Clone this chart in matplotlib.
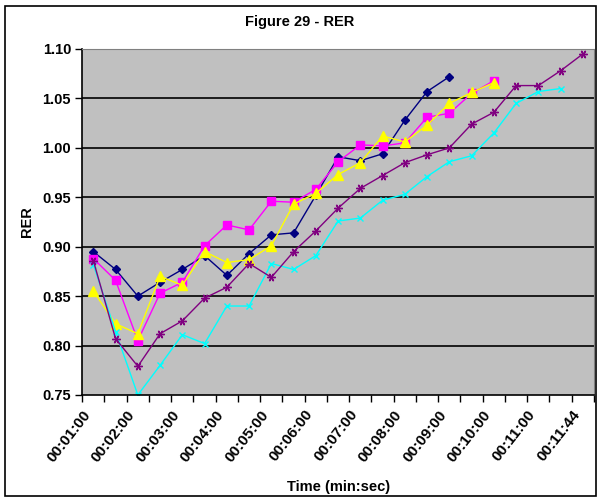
import matplotlib.pyplot as plt
import numpy as np
from matplotlib.patches import Rectangle

plt.rcParams['font.family'] = ['Liberation Sans', 'DejaVu Sans']

# categories every 30 s, last one at 11:44
times = ['00:01:00', '00:01:30', '00:02:00', '00:02:30', '00:03:00', '00:03:30',
         '00:04:00', '00:04:30', '00:05:00', '00:05:30', '00:06:00', '00:06:30',
         '00:07:00', '00:07:30', '00:08:00', '00:08:30', '00:09:00', '00:09:30',
         '00:10:00', '00:10:30', '00:11:00', '00:11:30', '00:11:44']

blue = [0.895, 0.877, 0.850, 0.864, 0.877, 0.891, 0.871, 0.893, 0.912, 0.914,
        0.952, 0.991, 0.987, 0.994, 1.028, 1.057, 1.072]
magenta = [0.888, 0.866, 0.805, 0.853, 0.864, 0.901, 0.922, 0.917, 0.946, 0.945,
           0.958, 0.986, 1.003, 1.002, 1.005, 1.031, 1.035, 1.055, 1.068]
yellow = [0.855, 0.822, 0.812, 0.870, 0.861, 0.895, 0.884, 0.887, 0.901, 0.943,
          0.954, 0.973, 0.985, 1.012, 1.006, 1.023, 1.045, 1.056, 1.066]
cyan = [0.882, 0.814, 0.750, 0.780, 0.811, 0.802, 0.840, 0.840, 0.883, 0.877,
        0.891, 0.926, 0.929, 0.947, 0.953, 0.971, 0.986, 0.992, 1.015, 1.045,
        1.057, 1.060]
purple = [0.886, 0.807, 0.779, 0.812, 0.825, 0.848, 0.859, 0.883, 0.869, 0.895,
          0.916, 0.939, 0.959, 0.972, 0.985, 0.993, 1.000, 1.024, 1.036, 1.063,
          1.063, 1.078, 1.095]

yticks = [0.75, 0.80, 0.85, 0.90, 0.95, 1.00, 1.05, 1.10]


def main():
    fig = plt.figure(figsize=(6, 5.01), dpi=100)
    fig.patches.append(Rectangle((0.008, 0.01), 0.985, 0.978, transform=fig.transFigure,
                                 fill=False, edgecolor='black', linewidth=1.2))
    ax = fig.add_axes([0.137, 0.2116, 0.853, 0.6906])
    ax.set_facecolor('#C0C0C0')

    series = [
        (blue, '#000080', 'D', 4.5),
        (magenta, '#FF00FF', 's', 5.5),
        (yellow, '#FFFF00', '^', 6.5),
        (cyan, '#00FFFF', 'x', 5),
        (purple, '#800080', (6, 2, 90), 6),
    ]
    for vals, color, marker, ms in series:
        ax.plot(np.arange(len(vals)), vals, color=color, marker=marker, markersize=ms,
                markeredgecolor=color, markeredgewidth=1.0, linewidth=1.0)

    ax.set_ylim(0.75, 1.10)
    ax.set_xlim(-0.5, len(times) - 0.5)
    ax.set_yticks(yticks)
    ax.set_yticklabels(['{:.2f}'.format(v) for v in yticks], fontsize=10.5, fontweight='bold')
    for v in yticks[1:]:
        ax.axhline(v, color='black', linewidth=1.2, zorder=0.5)

    idx = np.arange(len(times))
    ax.set_xticks(idx)
    ax.set_xticklabels([t if i % 2 == 0 else '' for i, t in enumerate(times)],
                       rotation=52, ha='right', va='top', fontsize=11, fontweight='bold')
    ax.set_xticks(np.arange(-0.5, len(times)), minor=True)
    ax.tick_params(axis='x', which='major', length=0, pad=9)
    ax.tick_params(axis='x', which='minor', length=5, direction='out', width=1)
    ax.tick_params(axis='y', length=5, direction='out', width=1, pad=3)

    for spine in ('top', 'right'):
        ax.spines[spine].set_color('#808080')
    for spine in ('left', 'bottom'):
        ax.spines[spine].set_color('black')
        ax.spines[spine].set_linewidth(1.2)

    fig.text(0.5, 0.956, 'Figure 29 - RER', ha='center', va='center',
             fontsize=10.5, fontweight='bold')
    ax.set_ylabel('RER', fontsize=10.5, fontweight='bold', labelpad=6)
    ax.set_xlabel('Time (min:sec)', fontsize=10.5, fontweight='bold', labelpad=11)

    fig.savefig('out.png', dpi=100)


if __name__ == "__main__":
    main()
